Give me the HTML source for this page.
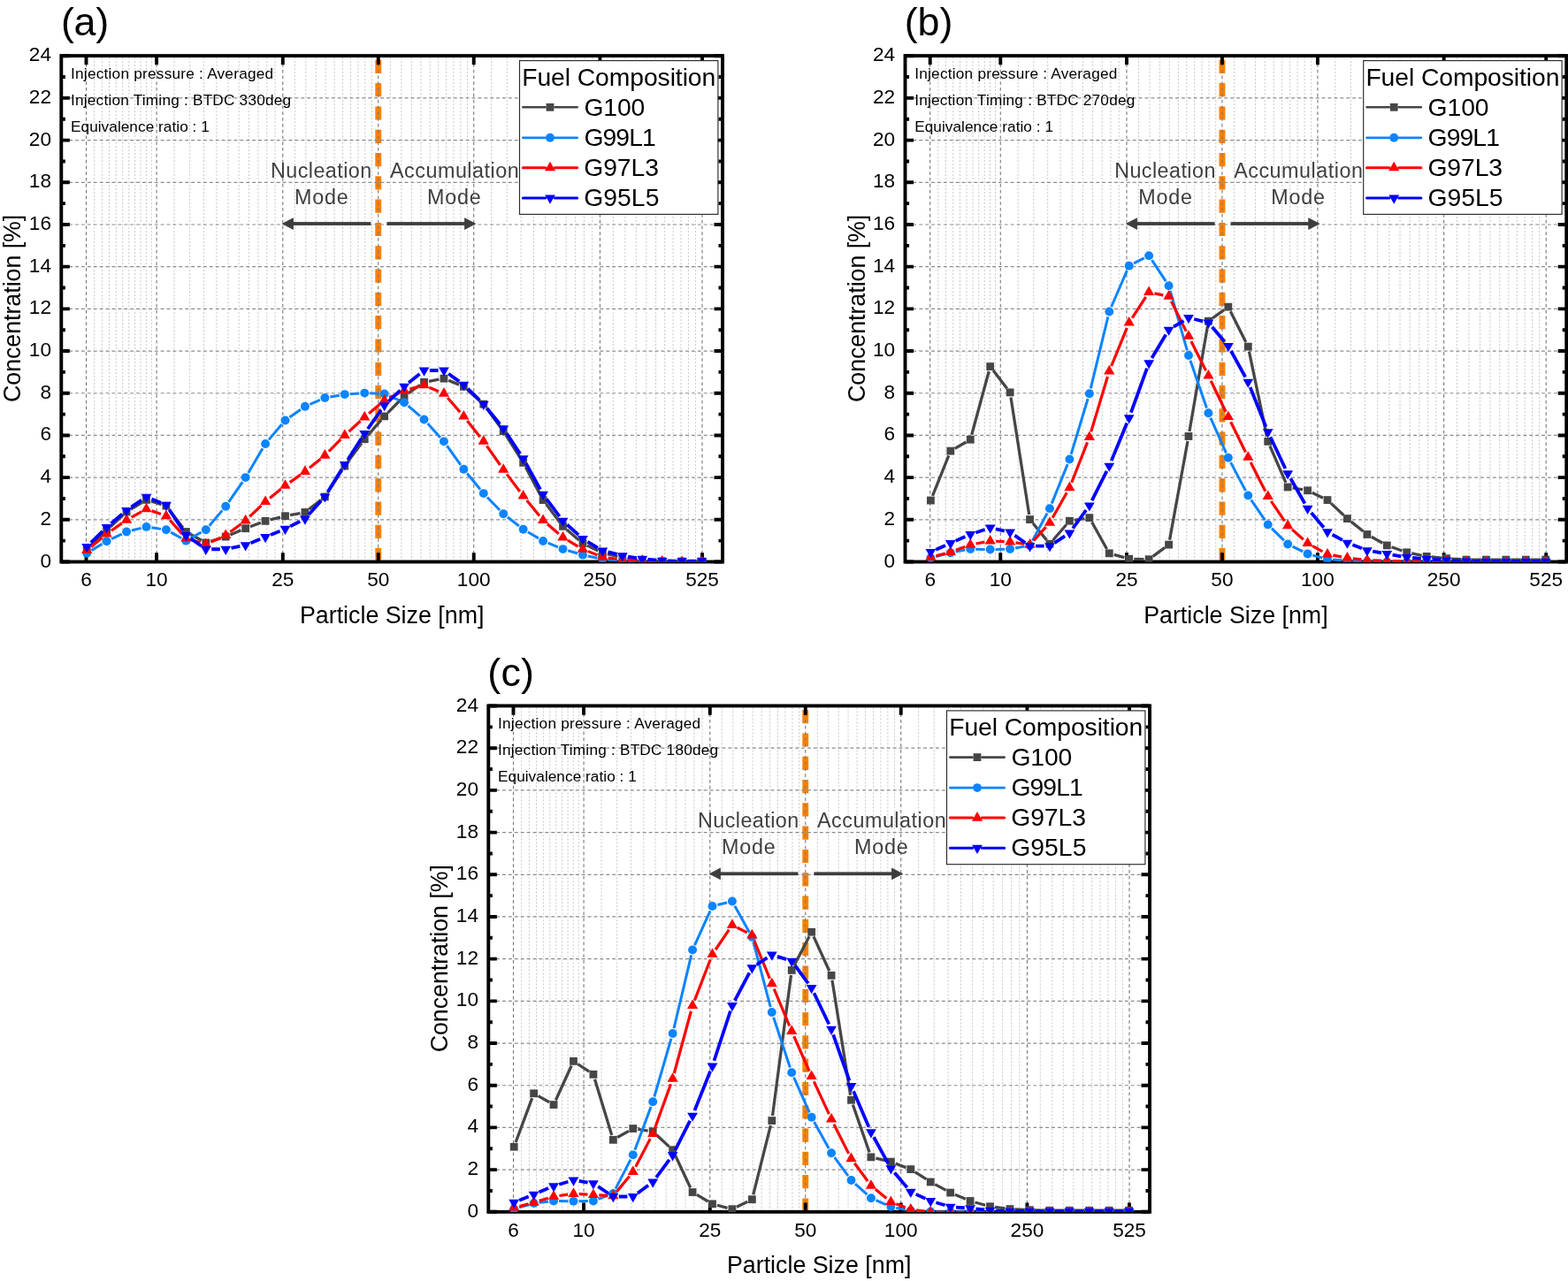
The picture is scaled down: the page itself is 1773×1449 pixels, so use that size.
<!DOCTYPE html>
<html><head><meta charset="utf-8"><title>Particle size distribution</title>
<style>html,body{margin:0;padding:0;background:#fff;}svg{display:block;}</style></head><body>
<svg width="1773" height="1449" viewBox="0 0 1773 1449">
<rect width="1773" height="1449" fill="#fff"/>
<g transform="translate(0,0)">
<clipPath id="clipa"><rect x="69.3" y="63.1" width="747.75" height="572.65"/></clipPath>
<line x1="427.75" y1="67.8" x2="427.75" y2="633.55" stroke="#FF8000" stroke-width="6.9" stroke-dasharray="15.2 11.1"/>
<path d="M106.66 65.05V633.55M115.32 65.05V633.55M123.52 65.05V633.55M131.31 65.05V633.55M138.73 65.05V633.55M145.81 65.05V633.55M152.58 65.05V633.55M159.07 65.05V633.55M165.31 65.05V633.55M171.3 65.05V633.55M196.98 65.05V633.55M214.63 65.05V633.55M230.48 65.05V633.55M244.87 65.05V633.55M258.04 65.05V633.55M270.18 65.05V633.55M281.45 65.05V633.55M291.95 65.05V633.55M301.79 65.05V633.55M311.05 65.05V633.55M333.34 65.05V633.55M345.81 65.05V633.55M357.35 65.05V633.55M368.1 65.05V633.55M378.15 65.05V633.55M387.59 65.05V633.55M396.5 65.05V633.55M404.92 65.05V633.55M412.91 65.05V633.55M420.51 65.05V633.55M441.3 65.05V633.55M453.77 65.05V633.55M465.31 65.05V633.55M476.06 65.05V633.55M486.11 65.05V633.55M495.56 65.05V633.55M504.46 65.05V633.55M512.88 65.05V633.55M520.87 65.05V633.55M528.47 65.05V633.55M555.63 65.05V633.55M573.28 65.05V633.55M589.13 65.05V633.55M603.52 65.05V633.55M616.69 65.05V633.55M628.83 65.05V633.55M640.1 65.05V633.55M650.6 65.05V633.55M660.44 65.05V633.55M669.7 65.05V633.55M693.28 65.05V633.55M706.84 65.05V633.55M719.3 65.05V633.55M730.85 65.05V633.55M741.59 65.05V633.55M751.64 65.05V633.55M761.09 65.05V633.55M769.99 65.05V633.55M778.41 65.05V633.55M786.4 65.05V633.55" stroke="#cacaca" stroke-width="1" stroke-dasharray="2.1 1.9" fill="none"/>
<path d="M97.5 65.05V633.55M177.07 65.05V633.55M319.79 65.05V633.55M427.75 65.05V633.55M535.72 65.05V633.55M678.44 65.05V633.55M794 65.05V633.55" stroke="#787878" stroke-width="1.1" stroke-dasharray="3.8 3.0" fill="none"/>
<path d="M71.25 587.81H815.1M71.25 540.12H815.1M71.25 492.43H815.1M71.25 444.74H815.1M71.25 397.05H815.1M71.25 349.36H815.1M71.25 301.67H815.1M71.25 253.98H815.1M71.25 206.29H815.1M71.25 158.6H815.1M71.25 110.91H815.1" stroke="#8c8c8c" stroke-width="1.2" stroke-dasharray="3.9 3.0" fill="none"/>
<text x="80" y="88.75" font-family="'Liberation Sans', Arial, Helvetica, sans-serif" font-size="17.2" fill="#000" textLength="229.11" lengthAdjust="spacing">Injection pressure : Averaged</text>
<text x="80" y="118.8" font-family="'Liberation Sans', Arial, Helvetica, sans-serif" font-size="17.2" fill="#000" textLength="249.06" lengthAdjust="spacing">Injection Timing : BTDC 330deg</text>
<text x="80" y="148.6" font-family="'Liberation Sans', Arial, Helvetica, sans-serif" font-size="17.2" fill="#000" textLength="156.85" lengthAdjust="spacing">Equivalence ratio : 1</text>
<text x="306" y="200.7" font-family="'Liberation Sans', Arial, Helvetica, sans-serif" font-size="23.3" fill="#404040" textLength="114.19" lengthAdjust="spacing">Nucleation</text>
<text x="333" y="230.7" font-family="'Liberation Sans', Arial, Helvetica, sans-serif" font-size="23.3" fill="#404040" textLength="60.78" lengthAdjust="spacing">Mode</text>
<text x="441" y="200.9" font-family="'Liberation Sans', Arial, Helvetica, sans-serif" font-size="23.3" fill="#404040" textLength="145.76" lengthAdjust="spacing">Accumulation</text>
<text x="483" y="230.8" font-family="'Liberation Sans', Arial, Helvetica, sans-serif" font-size="23.3" fill="#404040" textLength="60.78" lengthAdjust="spacing">Mode</text>
<g fill="#3d3d3d" stroke="#3d3d3d" stroke-width="0.8" stroke-linejoin="round">
<rect x="330" y="251.1" width="89.4" height="3.8" stroke="none"/>
<path d="M319.4 253.1L331.5 246.8L331.5 259.4Z"/>
<rect x="437.4" y="251.1" width="89" height="3.8" stroke="none"/>
<path d="M537.6 253.1L525.5 246.8L525.5 259.4Z"/>
</g>
<rect x="69.3" y="63.1" width="747.75" height="572.4" fill="none" stroke="#000" stroke-width="3.9"/>
<path d="M97.5 635.5V625.25M97.5 63.1V73.35M177.07 635.5V625.25M177.07 63.1V73.35M319.79 635.5V625.25M319.79 63.1V73.35M427.75 635.5V625.25M427.75 63.1V73.35M535.72 635.5V625.25M535.72 63.1V73.35M678.44 635.5V625.25M678.44 63.1V73.35M794 635.5V625.25M794 63.1V73.35M69.3 635.5H78.85M817.05 635.5H807.5M69.3 587.81H78.85M817.05 587.81H807.5M69.3 540.12H78.85M817.05 540.12H807.5M69.3 492.43H78.85M817.05 492.43H807.5M69.3 444.74H78.85M817.05 444.74H807.5M69.3 397.05H78.85M817.05 397.05H807.5M69.3 349.36H78.85M817.05 349.36H807.5M69.3 301.67H78.85M817.05 301.67H807.5M69.3 253.98H78.85M817.05 253.98H807.5M69.3 206.29H78.85M817.05 206.29H807.5M69.3 158.6H78.85M817.05 158.6H807.5M69.3 110.91H78.85M817.05 110.91H807.5M69.3 63.22H78.85M817.05 63.22H807.5" stroke="#000" stroke-width="3.9" fill="none"/>
<path d="M69.3 611.65H73.85M817.05 611.65H812.5M69.3 563.97H73.85M817.05 563.97H812.5M69.3 516.27H73.85M817.05 516.27H812.5M69.3 468.59H73.85M817.05 468.59H812.5M69.3 420.89H73.85M817.05 420.89H812.5M69.3 373.21H73.85M817.05 373.21H812.5M69.3 325.51H73.85M817.05 325.51H812.5M69.3 277.83H73.85M817.05 277.83H812.5M69.3 230.13H73.85M817.05 230.13H812.5M69.3 182.45H73.85M817.05 182.45H812.5M69.3 134.75H73.85M817.05 134.75H812.5M69.3 87.07H73.85M817.05 87.07H812.5" stroke="#000" stroke-width="3.9" fill="none"/>
<g clip-path="url(#clipa)">
<path d="M102.25 617.32L116.58 603.6M124.74 595.93L138.95 582.79M147.85 576.09L160.7 568.3M170.85 567.02L182.56 570.57M191.32 576.64L206.95 597.07M215.25 604.23L227.88 611.21M238.14 612.3L249.85 608.75M260.37 604.95L272.48 599.85M282.89 595.73L294.82 591.29M305.5 587.97L317.07 585.07M328 582.67L339.43 580.51M349.35 576.02L362.94 565.43M370.39 557.27L386.76 531.77M393.12 522.55L408.89 501.2M415.89 492.47L430.98 475.1M438.57 466.88L453.16 452.03M461.66 444.81L474.93 435.51M485.02 431.28L496.43 429.18M507.13 430.27L519.18 435.15M528.56 440.97L542.61 453.42M550.11 461.66L565.92 483.24M572.22 492.49L588.67 518.62M594.29 528.3L611.46 560.62M617.46 570.04L633.15 590.89M640.77 599.02L654.7 610.99M664.01 617.04L676.32 622.89M686.82 626.61L698.37 629.41M709.35 631.56L720.7 633.24M731.84 634.25L743.07 634.61M754.27 634.84L765.5 634.96M776.7 635.02L787.93 635.02" fill="none" stroke="#464646" stroke-width="3.3" stroke-linecap="butt"/>
<rect x="93.8" y="616.79" width="8.8" height="8.8" fill="#464646"/>
<rect x="116.23" y="595.33" width="8.8" height="8.8" fill="#464646"/>
<rect x="138.66" y="574.59" width="8.8" height="8.8" fill="#464646"/>
<rect x="161.09" y="561" width="8.8" height="8.8" fill="#464646"/>
<rect x="183.52" y="567.79" width="8.8" height="8.8" fill="#464646"/>
<rect x="205.95" y="597.12" width="8.8" height="8.8" fill="#464646"/>
<rect x="228.38" y="609.52" width="8.8" height="8.8" fill="#464646"/>
<rect x="250.81" y="602.72" width="8.8" height="8.8" fill="#464646"/>
<rect x="273.24" y="593.28" width="8.8" height="8.8" fill="#464646"/>
<rect x="295.67" y="584.94" width="8.8" height="8.8" fill="#464646"/>
<rect x="318.1" y="579.31" width="8.8" height="8.8" fill="#464646"/>
<rect x="340.53" y="575.06" width="8.8" height="8.8" fill="#464646"/>
<rect x="362.96" y="557.59" width="8.8" height="8.8" fill="#464646"/>
<rect x="385.39" y="522.65" width="8.8" height="8.8" fill="#464646"/>
<rect x="407.82" y="492.3" width="8.8" height="8.8" fill="#464646"/>
<rect x="430.25" y="466.47" width="8.8" height="8.8" fill="#464646"/>
<rect x="452.68" y="443.63" width="8.8" height="8.8" fill="#464646"/>
<rect x="475.11" y="427.89" width="8.8" height="8.8" fill="#464646"/>
<rect x="497.54" y="423.77" width="8.8" height="8.8" fill="#464646"/>
<rect x="519.97" y="432.85" width="8.8" height="8.8" fill="#464646"/>
<rect x="542.4" y="452.74" width="8.8" height="8.8" fill="#464646"/>
<rect x="564.83" y="483.36" width="8.8" height="8.8" fill="#464646"/>
<rect x="587.26" y="518.96" width="8.8" height="8.8" fill="#464646"/>
<rect x="609.69" y="561.16" width="8.8" height="8.8" fill="#464646"/>
<rect x="632.12" y="590.97" width="8.8" height="8.8" fill="#464646"/>
<rect x="654.55" y="610.24" width="8.8" height="8.8" fill="#464646"/>
<rect x="676.98" y="620.89" width="8.8" height="8.8" fill="#464646"/>
<rect x="699.41" y="626.33" width="8.8" height="8.8" fill="#464646"/>
<rect x="721.84" y="629.67" width="8.8" height="8.8" fill="#464646"/>
<rect x="744.27" y="630.38" width="8.8" height="8.8" fill="#464646"/>
<rect x="766.7" y="630.62" width="8.8" height="8.8" fill="#464646"/>
<rect x="789.13" y="630.62" width="8.8" height="8.8" fill="#464646"/>
<path d="M103.34 622.63L115.49 615.32M126.04 609.64L137.65 604.11M148.88 600.07L159.67 597.37M171.42 596.8L181.99 598.37M193.17 602.16L205.1 608.75M215.6 608.75L227.53 602.16M236.66 594.68L251.33 577.37M258.61 567.84L274.24 545.07M280.68 534.95L297.03 507.14M303.94 497.39L318.63 480.01M327.42 472L340.01 463.22M350.43 457.4L361.86 452.44M373.27 449.02L383.88 447.16M395.78 445.72L406.23 445M418.22 444.84L428.65 445.26M440.15 447.89L451.58 452.84M461.63 459.14L474.96 470.59M483.53 478.95L497.92 494.89M505.42 504.23L520.89 525.91M528.18 535.43L542.99 553.49M550.97 562.43L565.06 576.99M573.97 584.98L586.92 595.01M596.83 601.74L608.92 608.89M619.64 614.21L630.97 618.83M642.28 622.78L653.19 625.95M664.81 628.94L675.52 631.33M687.36 633.08L697.83 633.86M709.8 634.56L720.25 635.01M732.24 635.33L742.67 635.44M754.67 635.5L765.1 635.5M777.1 635.5L787.53 635.5" fill="none" stroke="#0A84FF" stroke-width="3.0" stroke-linecap="butt"/>
<circle cx="98.2" cy="625.72" r="4.95" fill="#0A84FF"/>
<circle cx="120.63" cy="612.23" r="4.95" fill="#0A84FF"/>
<circle cx="143.06" cy="601.52" r="4.95" fill="#0A84FF"/>
<circle cx="165.49" cy="595.92" r="4.95" fill="#0A84FF"/>
<circle cx="187.92" cy="599.26" r="4.95" fill="#0A84FF"/>
<circle cx="210.35" cy="611.65" r="4.95" fill="#0A84FF"/>
<circle cx="232.78" cy="599.26" r="4.95" fill="#0A84FF"/>
<circle cx="255.21" cy="572.79" r="4.95" fill="#0A84FF"/>
<circle cx="277.64" cy="540.12" r="4.95" fill="#0A84FF"/>
<circle cx="300.07" cy="501.97" r="4.95" fill="#0A84FF"/>
<circle cx="322.5" cy="475.43" r="4.95" fill="#0A84FF"/>
<circle cx="344.93" cy="459.79" r="4.95" fill="#0A84FF"/>
<circle cx="367.36" cy="450.06" r="4.95" fill="#0A84FF"/>
<circle cx="389.79" cy="446.12" r="4.95" fill="#0A84FF"/>
<circle cx="412.22" cy="444.6" r="4.95" fill="#0A84FF"/>
<circle cx="434.65" cy="445.5" r="4.95" fill="#0A84FF"/>
<circle cx="457.08" cy="455.23" r="4.95" fill="#0A84FF"/>
<circle cx="479.51" cy="474.5" r="4.95" fill="#0A84FF"/>
<circle cx="501.94" cy="499.35" r="4.95" fill="#0A84FF"/>
<circle cx="524.37" cy="530.8" r="4.95" fill="#0A84FF"/>
<circle cx="546.8" cy="558.12" r="4.95" fill="#0A84FF"/>
<circle cx="569.23" cy="581.3" r="4.95" fill="#0A84FF"/>
<circle cx="591.66" cy="598.68" r="4.95" fill="#0A84FF"/>
<circle cx="614.09" cy="611.94" r="4.95" fill="#0A84FF"/>
<circle cx="636.52" cy="621.1" r="4.95" fill="#0A84FF"/>
<circle cx="658.95" cy="627.63" r="4.95" fill="#0A84FF"/>
<circle cx="681.38" cy="632.64" r="4.95" fill="#0A84FF"/>
<circle cx="703.81" cy="634.31" r="4.95" fill="#0A84FF"/>
<circle cx="726.24" cy="635.26" r="4.95" fill="#0A84FF"/>
<circle cx="748.67" cy="635.5" r="4.95" fill="#0A84FF"/>
<circle cx="771.1" cy="635.5" r="4.95" fill="#0A84FF"/>
<circle cx="793.53" cy="635.5" r="4.95" fill="#0A84FF"/>
<path d="M103.13 618.4L115.7 607.97M125.87 600.21L137.82 591.82M148.66 585.05L159.89 578.84M171.53 577.87L181.88 581.5M192.17 588.4L206.1 604.1M216.48 610.75L226.65 613.83M238.61 613.05L249.38 608.19M260.34 601.73L272.51 592.68M282.28 584.45L295.43 571.95M305.04 563.51L317.53 553.36M327.72 545.62L339.71 537.08M349.9 529.34L362.39 519.19M371.85 510.6L385.3 496.94M394.51 488.07L407.5 476.2M417.11 467.74L429.76 457.03M440.38 450.05L451.35 444.59M463.26 440.08L473.33 437.37M485.41 438.19L496.04 442.66M506.14 449.98L520.17 466.14M528.36 475.98L542.81 494.13M550.46 504.38L565.57 526M573.08 536.36L587.81 555.92M595.71 565.99L610.04 583.57M618.93 592.72L631.68 603.75M642.02 611.21L653.45 618.02M664.91 623.63L675.42 627.77M687.72 630.99L697.47 632.34M710.21 633.46L719.84 633.84M732.63 634.35L742.28 634.74M755.07 635.13L764.7 635.33M777.5 635.56L787.13 635.73" fill="none" stroke="#FF0000" stroke-width="3.2" stroke-linecap="butt"/>
<path d="M98.2 615.42L104.3 626.02L92.1 626.02Z" fill="#FF0000"/>
<path d="M120.63 596.82L126.73 607.42L114.53 607.42Z" fill="#FF0000"/>
<path d="M143.06 581.08L149.16 591.68L136.96 591.68Z" fill="#FF0000"/>
<path d="M165.49 568.68L171.59 579.28L159.39 579.28Z" fill="#FF0000"/>
<path d="M187.92 576.55L194.02 587.15L181.82 587.15Z" fill="#FF0000"/>
<path d="M210.35 601.82L216.45 612.42L204.25 612.42Z" fill="#FF0000"/>
<path d="M232.78 608.62L238.88 619.22L226.68 619.22Z" fill="#FF0000"/>
<path d="M255.21 598.49L261.31 609.09L249.11 609.09Z" fill="#FF0000"/>
<path d="M277.64 581.79L283.74 592.39L271.54 592.39Z" fill="#FF0000"/>
<path d="M300.07 560.48L306.17 571.08L293.97 571.08Z" fill="#FF0000"/>
<path d="M322.5 542.26L328.6 552.86L316.4 552.86Z" fill="#FF0000"/>
<path d="M344.93 526.31L351.03 536.91L338.83 536.91Z" fill="#FF0000"/>
<path d="M367.36 508.09L373.46 518.69L361.26 518.69Z" fill="#FF0000"/>
<path d="M389.79 485.32L395.89 495.92L383.69 495.92Z" fill="#FF0000"/>
<path d="M412.22 464.81L418.32 475.41L406.12 475.41Z" fill="#FF0000"/>
<path d="M434.65 445.83L440.75 456.43L428.55 456.43Z" fill="#FF0000"/>
<path d="M457.08 434.67L463.18 445.27L450.98 445.27Z" fill="#FF0000"/>
<path d="M479.51 428.64L485.61 439.24L473.41 439.24Z" fill="#FF0000"/>
<path d="M501.94 438.08L508.04 448.68L495.84 448.68Z" fill="#FF0000"/>
<path d="M524.37 463.9L530.47 474.5L518.27 474.5Z" fill="#FF0000"/>
<path d="M546.8 492.07L552.9 502.67L540.7 502.67Z" fill="#FF0000"/>
<path d="M569.23 524.19L575.33 534.79L563.13 534.79Z" fill="#FF0000"/>
<path d="M591.66 553.97L597.76 564.57L585.56 564.57Z" fill="#FF0000"/>
<path d="M614.09 581.46L620.19 592.06L607.99 592.06Z" fill="#FF0000"/>
<path d="M636.52 600.87L642.62 611.47L630.42 611.47Z" fill="#FF0000"/>
<path d="M658.95 614.22L665.05 624.82L652.85 624.82Z" fill="#FF0000"/>
<path d="M681.38 623.05L687.48 633.65L675.28 633.65Z" fill="#FF0000"/>
<path d="M703.81 626.15L709.91 636.75L697.71 636.75Z" fill="#FF0000"/>
<path d="M726.24 627.03L732.34 637.63L720.14 637.63Z" fill="#FF0000"/>
<path d="M748.67 627.93L754.77 638.53L742.57 638.53Z" fill="#FF0000"/>
<path d="M771.1 628.39L777.2 638.99L765 638.99Z" fill="#FF0000"/>
<path d="M793.53 628.77L799.63 639.37L787.43 639.37Z" fill="#FF0000"/>
<path d="M102.77 613.94L116.06 600.91M125.5 592.28L138.19 581.44M148.35 573.69L160.2 565.63M171.42 564.42L181.99 568.69M191.42 576.45L206.85 600.07M215.58 609.11L227.55 617.55M239.18 621.23L248.81 621.23M261.48 619.95L271.37 617.92M283.55 614.19L294.16 609.8M306 604.95L316.57 600.67M328.21 595.37L339.22 589.77M349.2 582.1L363.09 566.58M370.71 556.36L386.44 530.8M393.25 519.97L408.76 495.83M415.9 485.21L430.97 463.77M439.27 454.11L452.46 441.5M462.06 433.06L474.53 423.02M485.91 419L495.54 419M507.14 422.73L519.17 431.35M528.94 439.56L542.23 452.6M550.83 462.06L565.2 479.77M572.76 490.08L588.13 513.34M594.76 524.28L610.99 553.64M617.92 564.36L632.69 584.09M641.27 593.5L654.2 605.21M664.46 612.76L675.87 619.52M687.58 624.38L697.61 626.96M710.13 629.56L719.92 631.12M732.61 632.74L742.3 633.67M755.07 634.41L764.7 634.62M777.5 634.75L787.13 634.75" fill="none" stroke="#0000FF" stroke-width="3.8" stroke-linecap="butt"/>
<path d="M92.3 615.02L104.1 615.02L98.2 625.22Z" fill="#0000FF"/>
<path d="M114.73 593.03L126.53 593.03L120.63 603.23Z" fill="#0000FF"/>
<path d="M137.16 573.89L148.96 573.89L143.06 584.09Z" fill="#0000FF"/>
<path d="M159.59 558.63L171.39 558.63L165.49 568.83Z" fill="#0000FF"/>
<path d="M182.02 567.69L193.82 567.69L187.92 577.89Z" fill="#0000FF"/>
<path d="M204.45 602.02L216.25 602.02L210.35 612.22Z" fill="#0000FF"/>
<path d="M226.88 617.83L238.68 617.83L232.78 628.03Z" fill="#0000FF"/>
<path d="M249.31 617.83L261.11 617.83L255.21 628.03Z" fill="#0000FF"/>
<path d="M271.74 613.23L283.54 613.23L277.64 623.43Z" fill="#0000FF"/>
<path d="M294.17 603.96L305.97 603.96L300.07 614.16Z" fill="#0000FF"/>
<path d="M316.6 594.87L328.4 594.87L322.5 605.07Z" fill="#0000FF"/>
<path d="M339.03 583.47L350.83 583.47L344.93 593.67Z" fill="#0000FF"/>
<path d="M361.46 558.41L373.26 558.41L367.36 568.61Z" fill="#0000FF"/>
<path d="M383.89 521.95L395.69 521.95L389.79 532.15Z" fill="#0000FF"/>
<path d="M406.32 487.04L418.12 487.04L412.22 497.24Z" fill="#0000FF"/>
<path d="M428.75 455.14L440.55 455.14L434.65 465.34Z" fill="#0000FF"/>
<path d="M451.18 433.68L462.98 433.68L457.08 443.88Z" fill="#0000FF"/>
<path d="M473.61 415.6L485.41 415.6L479.51 425.8Z" fill="#0000FF"/>
<path d="M496.04 415.6L507.84 415.6L501.94 425.8Z" fill="#0000FF"/>
<path d="M518.47 431.68L530.27 431.68L524.37 441.88Z" fill="#0000FF"/>
<path d="M540.9 453.68L552.7 453.68L546.8 463.88Z" fill="#0000FF"/>
<path d="M563.33 481.34L575.13 481.34L569.23 491.54Z" fill="#0000FF"/>
<path d="M585.76 515.28L597.56 515.28L591.66 525.48Z" fill="#0000FF"/>
<path d="M608.19 555.84L619.99 555.84L614.09 566.04Z" fill="#0000FF"/>
<path d="M630.62 585.81L642.42 585.81L636.52 596.01Z" fill="#0000FF"/>
<path d="M653.05 606.1L664.85 606.1L658.95 616.3Z" fill="#0000FF"/>
<path d="M675.48 619.38L687.28 619.38L681.38 629.58Z" fill="#0000FF"/>
<path d="M697.91 625.15L709.71 625.15L703.81 635.35Z" fill="#0000FF"/>
<path d="M720.34 628.73L732.14 628.73L726.24 638.93Z" fill="#0000FF"/>
<path d="M742.77 630.88L754.57 630.88L748.67 641.08Z" fill="#0000FF"/>
<path d="M765.2 631.35L777 631.35L771.1 641.55Z" fill="#0000FF"/>
<path d="M787.63 631.35L799.43 631.35L793.53 641.55Z" fill="#0000FF"/>
</g>
<rect x="587.5" y="68.6" width="224.4" height="173.8" fill="#fff" stroke="#2a2a2a" stroke-width="1.15"/>
<text x="590.2" y="96.8" font-family="'Liberation Sans', Arial, Helvetica, sans-serif" font-size="28.3" fill="#000" textLength="219.09" lengthAdjust="spacing">Fuel Composition</text>
<path d="M591.3 121.3H616.6M627.4 121.3H652.7" stroke="#464646" stroke-width="2.6" stroke-linecap="round" fill="none"/>
<rect x="617.6" y="116.9" width="8.8" height="8.8" fill="#464646"/>
<text x="660.4" y="130.9" font-family="'Liberation Sans', Arial, Helvetica, sans-serif" font-size="28.3" fill="#000" textLength="68.93" lengthAdjust="spacing">G100</text>
<path d="M591.3 155.8H616.6M627.4 155.8H652.7" stroke="#0A84FF" stroke-width="2.7" stroke-linecap="round" fill="none"/>
<circle cx="622" cy="155.8" r="4.95" fill="#0A84FF"/>
<text x="660.4" y="164.9" font-family="'Liberation Sans', Arial, Helvetica, sans-serif" font-size="28.3" fill="#000" textLength="81.37" lengthAdjust="spacing">G99L1</text>
<path d="M591.3 189.8H616.6M627.4 189.8H652.7" stroke="#FF0000" stroke-width="3.0" stroke-linecap="round" fill="none"/>
<path d="M622 182.73L628.1 193.33L615.9 193.33Z" fill="#FF0000"/>
<text x="660.2" y="198.9" font-family="'Liberation Sans', Arial, Helvetica, sans-serif" font-size="28.3" fill="#000" textLength="84.72" lengthAdjust="spacing">G97L3</text>
<path d="M591.3 223.9H616.6M627.4 223.9H652.7" stroke="#0000FF" stroke-width="3.0" stroke-linecap="round" fill="none"/>
<path d="M616.1 220.5L627.9 220.5L622 230.7Z" fill="#0000FF"/>
<text x="660.2" y="232.7" font-family="'Liberation Sans', Arial, Helvetica, sans-serif" font-size="28.3" fill="#000" textLength="85.22" lengthAdjust="spacing">G95L5</text>
<g font-family="'Liberation Sans', Arial, Helvetica, sans-serif" font-size="22.6" fill="#000">
<text x="58" y="641.5" text-anchor="end">0</text>
<text x="58" y="593.81" text-anchor="end">2</text>
<text x="58" y="546.12" text-anchor="end">4</text>
<text x="58" y="498.43" text-anchor="end">6</text>
<text x="58" y="450.74" text-anchor="end">8</text>
<text x="58" y="403.05" text-anchor="end">10</text>
<text x="58" y="355.36" text-anchor="end">12</text>
<text x="58" y="307.67" text-anchor="end">14</text>
<text x="58" y="259.98" text-anchor="end">16</text>
<text x="58" y="212.29" text-anchor="end">18</text>
<text x="58" y="164.6" text-anchor="end">20</text>
<text x="58" y="116.91" text-anchor="end">22</text>
<text x="58" y="69.22" text-anchor="end">24</text>
<text x="97.5" y="663.4" text-anchor="middle">6</text>
<text x="177.07" y="663.4" text-anchor="middle">10</text>
<text x="319.79" y="663.4" text-anchor="middle">25</text>
<text x="427.75" y="663.4" text-anchor="middle">50</text>
<text x="535.72" y="663.4" text-anchor="middle">100</text>
<text x="678.44" y="663.4" text-anchor="middle">250</text>
<text x="794" y="663.4" text-anchor="middle">525</text>
</g>
<text x="339" y="704.8" font-family="'Liberation Sans', Arial, Helvetica, sans-serif" font-size="26.8" fill="#000" textLength="208.4" lengthAdjust="spacing">Particle Size [nm]</text>
<text transform="translate(23.3,455) rotate(-90)" font-family="'Liberation Sans', Arial, Helvetica, sans-serif" font-size="26.8" fill="#000" textLength="212.32" lengthAdjust="spacing">Concentration [%]</text>
<text x="69" y="40.2" font-family="'Liberation Sans', Arial, Helvetica, sans-serif" font-size="44.8" fill="#000" textLength="54.15" lengthAdjust="spacing">(a)</text>
</g>
<g transform="translate(954.2,0)">
<clipPath id="clipb"><rect x="69.3" y="63.1" width="747.75" height="572.65"/></clipPath>
<line x1="427.75" y1="67.8" x2="427.75" y2="633.55" stroke="#FF8000" stroke-width="6.9" stroke-dasharray="15.2 11.1"/>
<path d="M106.66 65.05V633.55M115.32 65.05V633.55M123.52 65.05V633.55M131.31 65.05V633.55M138.73 65.05V633.55M145.81 65.05V633.55M152.58 65.05V633.55M159.07 65.05V633.55M165.31 65.05V633.55M171.3 65.05V633.55M196.98 65.05V633.55M214.63 65.05V633.55M230.48 65.05V633.55M244.87 65.05V633.55M258.04 65.05V633.55M270.18 65.05V633.55M281.45 65.05V633.55M291.95 65.05V633.55M301.79 65.05V633.55M311.05 65.05V633.55M333.34 65.05V633.55M345.81 65.05V633.55M357.35 65.05V633.55M368.1 65.05V633.55M378.15 65.05V633.55M387.59 65.05V633.55M396.5 65.05V633.55M404.92 65.05V633.55M412.91 65.05V633.55M420.51 65.05V633.55M441.3 65.05V633.55M453.77 65.05V633.55M465.31 65.05V633.55M476.06 65.05V633.55M486.11 65.05V633.55M495.56 65.05V633.55M504.46 65.05V633.55M512.88 65.05V633.55M520.87 65.05V633.55M528.47 65.05V633.55M555.63 65.05V633.55M573.28 65.05V633.55M589.13 65.05V633.55M603.52 65.05V633.55M616.69 65.05V633.55M628.83 65.05V633.55M640.1 65.05V633.55M650.6 65.05V633.55M660.44 65.05V633.55M669.7 65.05V633.55M693.28 65.05V633.55M706.84 65.05V633.55M719.3 65.05V633.55M730.85 65.05V633.55M741.59 65.05V633.55M751.64 65.05V633.55M761.09 65.05V633.55M769.99 65.05V633.55M778.41 65.05V633.55M786.4 65.05V633.55" stroke="#cacaca" stroke-width="1" stroke-dasharray="2.1 1.9" fill="none"/>
<path d="M97.5 65.05V633.55M177.07 65.05V633.55M319.79 65.05V633.55M427.75 65.05V633.55M535.72 65.05V633.55M678.44 65.05V633.55M794 65.05V633.55" stroke="#787878" stroke-width="1.1" stroke-dasharray="3.8 3.0" fill="none"/>
<path d="M71.25 587.81H815.1M71.25 540.12H815.1M71.25 492.43H815.1M71.25 444.74H815.1M71.25 397.05H815.1M71.25 349.36H815.1M71.25 301.67H815.1M71.25 253.98H815.1M71.25 206.29H815.1M71.25 158.6H815.1M71.25 110.91H815.1" stroke="#8c8c8c" stroke-width="1.2" stroke-dasharray="3.9 3.0" fill="none"/>
<text x="80" y="88.75" font-family="'Liberation Sans', Arial, Helvetica, sans-serif" font-size="17.2" fill="#000" textLength="229.11" lengthAdjust="spacing">Injection pressure : Averaged</text>
<text x="80" y="118.8" font-family="'Liberation Sans', Arial, Helvetica, sans-serif" font-size="17.2" fill="#000" textLength="249.06" lengthAdjust="spacing">Injection Timing : BTDC 270deg</text>
<text x="80" y="148.6" font-family="'Liberation Sans', Arial, Helvetica, sans-serif" font-size="17.2" fill="#000" textLength="156.85" lengthAdjust="spacing">Equivalence ratio : 1</text>
<text x="306" y="200.7" font-family="'Liberation Sans', Arial, Helvetica, sans-serif" font-size="23.3" fill="#404040" textLength="114.19" lengthAdjust="spacing">Nucleation</text>
<text x="333" y="230.7" font-family="'Liberation Sans', Arial, Helvetica, sans-serif" font-size="23.3" fill="#404040" textLength="60.78" lengthAdjust="spacing">Mode</text>
<text x="441" y="200.9" font-family="'Liberation Sans', Arial, Helvetica, sans-serif" font-size="23.3" fill="#404040" textLength="145.76" lengthAdjust="spacing">Accumulation</text>
<text x="483" y="230.8" font-family="'Liberation Sans', Arial, Helvetica, sans-serif" font-size="23.3" fill="#404040" textLength="60.78" lengthAdjust="spacing">Mode</text>
<g fill="#3d3d3d" stroke="#3d3d3d" stroke-width="0.8" stroke-linejoin="round">
<rect x="330" y="251.1" width="89.4" height="3.8" stroke="none"/>
<path d="M319.4 253.1L331.5 246.8L331.5 259.4Z"/>
<rect x="437.4" y="251.1" width="89" height="3.8" stroke="none"/>
<path d="M537.6 253.1L525.5 246.8L525.5 259.4Z"/>
</g>
<rect x="69.3" y="63.1" width="747.75" height="572.4" fill="none" stroke="#000" stroke-width="3.9"/>
<path d="M97.5 635.5V625.25M97.5 63.1V73.35M177.07 635.5V625.25M177.07 63.1V73.35M319.79 635.5V625.25M319.79 63.1V73.35M427.75 635.5V625.25M427.75 63.1V73.35M535.72 635.5V625.25M535.72 63.1V73.35M678.44 635.5V625.25M678.44 63.1V73.35M794 635.5V625.25M794 63.1V73.35M69.3 635.5H78.85M817.05 635.5H807.5M69.3 587.81H78.85M817.05 587.81H807.5M69.3 540.12H78.85M817.05 540.12H807.5M69.3 492.43H78.85M817.05 492.43H807.5M69.3 444.74H78.85M817.05 444.74H807.5M69.3 397.05H78.85M817.05 397.05H807.5M69.3 349.36H78.85M817.05 349.36H807.5M69.3 301.67H78.85M817.05 301.67H807.5M69.3 253.98H78.85M817.05 253.98H807.5M69.3 206.29H78.85M817.05 206.29H807.5M69.3 158.6H78.85M817.05 158.6H807.5M69.3 110.91H78.85M817.05 110.91H807.5M69.3 63.22H78.85M817.05 63.22H807.5" stroke="#000" stroke-width="3.9" fill="none"/>
<path d="M69.3 611.65H73.85M817.05 611.65H812.5M69.3 563.97H73.85M817.05 563.97H812.5M69.3 516.27H73.85M817.05 516.27H812.5M69.3 468.59H73.85M817.05 468.59H812.5M69.3 420.89H73.85M817.05 420.89H812.5M69.3 373.21H73.85M817.05 373.21H812.5M69.3 325.51H73.85M817.05 325.51H812.5M69.3 277.83H73.85M817.05 277.83H812.5M69.3 230.13H73.85M817.05 230.13H812.5M69.3 182.45H73.85M817.05 182.45H812.5M69.3 134.75H73.85M817.05 134.75H812.5M69.3 87.07H73.85M817.05 87.07H812.5" stroke="#000" stroke-width="3.9" fill="none"/>
<g clip-path="url(#clipb)">
<path d="M100.28 560.87L118.55 515.32M125.48 507.33L138.21 499.99M144.53 491.79L164.02 419.98M168.89 419.02L184.52 439.43M188.78 449.41L209.49 582.06M213.88 591.94L229.25 610.88M236.44 610.99L251.55 593.48M260.74 588.36L272.11 586.55M280.37 590.55L297.34 620.93M305.46 627.35L317.11 630.67M328.1 632.33L339.33 632.59M349.43 629.38L362.86 619.44M368.37 610.61L388.78 499.01M390.74 487.98L411.27 368.76M416.77 359.97L430.1 350.41M437.15 352.15L454.58 387.08M458.23 397.57L478.36 493.86M481.74 504.48L499.71 545.86M507.46 551.93L518.85 553.87M529.42 557.23L541.75 563.14M550.89 569.39L565.14 582.76M573.61 590.09L587.28 600.99M596.56 607.19L609.19 614.19M619.37 618.76L631.24 622.95M642.01 625.94L653.46 628.28M664.52 629.98L675.81 631.15M686.97 632.08L698.22 632.77M709.41 633.12L720.64 633.12M731.84 633.12L743.07 633.12M754.27 633.12L765.5 633.12M776.7 633.12L787.93 633.12" fill="none" stroke="#464646" stroke-width="3.3" stroke-linecap="butt"/>
<rect x="93.8" y="561.66" width="8.8" height="8.8" fill="#464646"/>
<rect x="116.23" y="505.72" width="8.8" height="8.8" fill="#464646"/>
<rect x="138.66" y="492.8" width="8.8" height="8.8" fill="#464646"/>
<rect x="161.09" y="410.18" width="8.8" height="8.8" fill="#464646"/>
<rect x="183.52" y="439.48" width="8.8" height="8.8" fill="#464646"/>
<rect x="205.95" y="583.2" width="8.8" height="8.8" fill="#464646"/>
<rect x="228.38" y="610.83" width="8.8" height="8.8" fill="#464646"/>
<rect x="250.81" y="584.84" width="8.8" height="8.8" fill="#464646"/>
<rect x="273.24" y="581.26" width="8.8" height="8.8" fill="#464646"/>
<rect x="295.67" y="621.42" width="8.8" height="8.8" fill="#464646"/>
<rect x="318.1" y="627.81" width="8.8" height="8.8" fill="#464646"/>
<rect x="340.53" y="628.31" width="8.8" height="8.8" fill="#464646"/>
<rect x="362.96" y="611.71" width="8.8" height="8.8" fill="#464646"/>
<rect x="385.39" y="489.1" width="8.8" height="8.8" fill="#464646"/>
<rect x="407.82" y="358.84" width="8.8" height="8.8" fill="#464646"/>
<rect x="430.25" y="342.74" width="8.8" height="8.8" fill="#464646"/>
<rect x="452.68" y="387.69" width="8.8" height="8.8" fill="#464646"/>
<rect x="475.11" y="494.95" width="8.8" height="8.8" fill="#464646"/>
<rect x="497.54" y="546.59" width="8.8" height="8.8" fill="#464646"/>
<rect x="519.97" y="550.41" width="8.8" height="8.8" fill="#464646"/>
<rect x="542.4" y="561.16" width="8.8" height="8.8" fill="#464646"/>
<rect x="564.83" y="582.19" width="8.8" height="8.8" fill="#464646"/>
<rect x="587.26" y="600.08" width="8.8" height="8.8" fill="#464646"/>
<rect x="609.69" y="612.5" width="8.8" height="8.8" fill="#464646"/>
<rect x="632.12" y="620.42" width="8.8" height="8.8" fill="#464646"/>
<rect x="654.55" y="625" width="8.8" height="8.8" fill="#464646"/>
<rect x="676.98" y="627.33" width="8.8" height="8.8" fill="#464646"/>
<rect x="699.41" y="628.72" width="8.8" height="8.8" fill="#464646"/>
<rect x="721.84" y="628.72" width="8.8" height="8.8" fill="#464646"/>
<rect x="744.27" y="628.72" width="8.8" height="8.8" fill="#464646"/>
<rect x="766.7" y="628.72" width="8.8" height="8.8" fill="#464646"/>
<rect x="789.13" y="628.72" width="8.8" height="8.8" fill="#464646"/>
<path d="M104.01 629.47L114.82 626.68M126.53 624.08L137.16 622.12M149.06 621.16L159.49 621.39M171.49 621.39L181.92 621.16M193.82 619.94L204.45 617.99M213.19 611.62L229.94 580.46M235.02 569.61L252.97 525.11M256.94 513.8L275.91 450.96M279.05 439.39L298.66 358.34M302.45 347L320.12 306.18M327.84 297.93L339.59 291.89M348.24 294.16L364.05 318.12M369 328.9L388.15 396.29M391.74 407.73L410.27 461.53M414.65 472.69L432.22 512.29M437.44 523.09L454.29 555.08M460.45 565.35L476.14 588.43M483.78 597.61L497.67 611.35M507.33 618.2L518.98 623.88M530.16 628.09L541.01 631.06M552.78 633.08L563.25 633.86M575.22 634.56L585.67 635.01M597.66 635.33L608.09 635.44M620.09 635.5L630.52 635.5M642.52 635.5L652.95 635.5M664.95 635.5L675.38 635.5M687.38 635.5L697.81 635.5M709.81 635.5L720.24 635.5M732.24 635.5L742.67 635.5M754.67 635.5L765.1 635.5M777.1 635.5L787.53 635.5" fill="none" stroke="#0A84FF" stroke-width="3.0" stroke-linecap="butt"/>
<circle cx="98.2" cy="630.97" r="4.95" fill="#0A84FF"/>
<circle cx="120.63" cy="625.18" r="4.95" fill="#0A84FF"/>
<circle cx="143.06" cy="621.03" r="4.95" fill="#0A84FF"/>
<circle cx="165.49" cy="621.53" r="4.95" fill="#0A84FF"/>
<circle cx="187.92" cy="621.03" r="4.95" fill="#0A84FF"/>
<circle cx="210.35" cy="616.9" r="4.95" fill="#0A84FF"/>
<circle cx="232.78" cy="575.17" r="4.95" fill="#0A84FF"/>
<circle cx="255.21" cy="519.54" r="4.95" fill="#0A84FF"/>
<circle cx="277.64" cy="445.22" r="4.95" fill="#0A84FF"/>
<circle cx="300.07" cy="352.51" r="4.95" fill="#0A84FF"/>
<circle cx="322.5" cy="300.67" r="4.95" fill="#0A84FF"/>
<circle cx="344.93" cy="289.15" r="4.95" fill="#0A84FF"/>
<circle cx="367.36" cy="323.13" r="4.95" fill="#0A84FF"/>
<circle cx="389.79" cy="402.06" r="4.95" fill="#0A84FF"/>
<circle cx="412.22" cy="467.2" r="4.95" fill="#0A84FF"/>
<circle cx="434.65" cy="517.78" r="4.95" fill="#0A84FF"/>
<circle cx="457.08" cy="560.39" r="4.95" fill="#0A84FF"/>
<circle cx="479.51" cy="593.39" r="4.95" fill="#0A84FF"/>
<circle cx="501.94" cy="615.57" r="4.95" fill="#0A84FF"/>
<circle cx="524.37" cy="626.51" r="4.95" fill="#0A84FF"/>
<circle cx="546.8" cy="632.64" r="4.95" fill="#0A84FF"/>
<circle cx="569.23" cy="634.31" r="4.95" fill="#0A84FF"/>
<circle cx="591.66" cy="635.26" r="4.95" fill="#0A84FF"/>
<circle cx="614.09" cy="635.5" r="4.95" fill="#0A84FF"/>
<circle cx="636.52" cy="635.5" r="4.95" fill="#0A84FF"/>
<circle cx="658.95" cy="635.5" r="4.95" fill="#0A84FF"/>
<circle cx="681.38" cy="635.5" r="4.95" fill="#0A84FF"/>
<circle cx="703.81" cy="635.5" r="4.95" fill="#0A84FF"/>
<circle cx="726.24" cy="635.5" r="4.95" fill="#0A84FF"/>
<circle cx="748.67" cy="635.5" r="4.95" fill="#0A84FF"/>
<circle cx="771.1" cy="635.5" r="4.95" fill="#0A84FF"/>
<circle cx="793.53" cy="635.5" r="4.95" fill="#0A84FF"/>
<path d="M104.39 628.73L114.44 626.09M126.63 622.25L137.06 618.4M149.35 615.01L159.2 613.17M171.89 612.24L181.52 612.62M194.25 613.81L204.02 615.25M214.64 611.44L228.49 596.09M235.93 585.77L252.06 557.23M257.55 545.71L275.3 500.44M279.48 488.35L298.23 426.05M302.49 413.99L320.08 370.93M325.99 359.64L341.44 335.89M351.2 331.81L361.09 333.84M370.2 340.86L386.95 374.6M392.66 386.06L409.35 419.33M415 430.81L431.87 465.76M437.46 477.27L454.27 511.58M459.98 523.03L476.61 555.83M483.1 566.83L498.35 589.36M506.73 598.9L519.58 610.28M529.97 617.62L541.2 623.84M553.09 628.11L562.94 629.93M575.59 631.79L585.3 632.87M598.06 633.81L607.69 634.17M620.49 634.54L630.12 634.75M642.92 634.95L652.55 635.05M665.35 635.12L674.98 635.12M687.78 635.19L697.41 635.29M710.21 635.47L719.84 635.65M732.64 635.76L742.27 635.76M755.07 635.76L764.7 635.76M777.5 635.76L787.13 635.76" fill="none" stroke="#FF0000" stroke-width="3.2" stroke-linecap="butt"/>
<path d="M98.2 623.28L104.3 633.88L92.1 633.88Z" fill="#FF0000"/>
<path d="M120.63 617.4L126.73 628L114.53 628Z" fill="#FF0000"/>
<path d="M143.06 609.12L149.16 619.72L136.96 619.72Z" fill="#FF0000"/>
<path d="M165.49 604.92L171.59 615.52L159.39 615.52Z" fill="#FF0000"/>
<path d="M187.92 605.81L194.02 616.41L181.82 616.41Z" fill="#FF0000"/>
<path d="M210.35 609.12L216.45 619.72L204.25 619.72Z" fill="#FF0000"/>
<path d="M232.78 584.27L238.88 594.87L226.68 594.87Z" fill="#FF0000"/>
<path d="M255.21 544.6L261.31 555.2L249.11 555.2Z" fill="#FF0000"/>
<path d="M277.64 487.42L283.74 498.02L271.54 498.02Z" fill="#FF0000"/>
<path d="M300.07 412.85L306.17 423.45L293.97 423.45Z" fill="#FF0000"/>
<path d="M322.5 357.94L328.6 368.54L316.4 368.54Z" fill="#FF0000"/>
<path d="M344.93 323.46L351.03 334.06L338.83 334.06Z" fill="#FF0000"/>
<path d="M367.36 328.06L373.46 338.66L361.26 338.66Z" fill="#FF0000"/>
<path d="M389.79 373.27L395.89 383.87L383.69 383.87Z" fill="#FF0000"/>
<path d="M412.22 417.98L418.32 428.58L406.12 428.58Z" fill="#FF0000"/>
<path d="M434.65 464.45L440.75 475.05L428.55 475.05Z" fill="#FF0000"/>
<path d="M457.08 510.26L463.18 520.86L450.98 520.86Z" fill="#FF0000"/>
<path d="M479.51 554.47L485.61 565.07L473.41 565.07Z" fill="#FF0000"/>
<path d="M501.94 587.59L508.04 598.19L495.84 598.19Z" fill="#FF0000"/>
<path d="M524.37 607.45L530.47 618.05L518.27 618.05Z" fill="#FF0000"/>
<path d="M546.8 619.88L552.9 630.48L540.7 630.48Z" fill="#FF0000"/>
<path d="M569.23 624.02L575.33 634.62L563.13 634.62Z" fill="#FF0000"/>
<path d="M591.66 626.5L597.76 637.1L585.56 637.1Z" fill="#FF0000"/>
<path d="M614.09 627.34L620.19 637.94L607.99 637.94Z" fill="#FF0000"/>
<path d="M636.52 627.82L642.62 638.42L630.42 638.42Z" fill="#FF0000"/>
<path d="M658.95 628.05L665.05 638.65L652.85 638.65Z" fill="#FF0000"/>
<path d="M681.38 628.05L687.48 638.65L675.28 638.65Z" fill="#FF0000"/>
<path d="M703.81 628.29L709.91 638.89L697.71 638.89Z" fill="#FF0000"/>
<path d="M726.24 628.7L732.34 639.3L720.14 639.3Z" fill="#FF0000"/>
<path d="M748.67 628.7L754.77 639.3L742.57 639.3Z" fill="#FF0000"/>
<path d="M771.1 628.7L777.2 639.3L765 639.3Z" fill="#FF0000"/>
<path d="M793.53 628.7L799.63 639.3L787.43 639.3Z" fill="#FF0000"/>
<path d="M104.05 621.72L114.78 616.96M126.48 611.78L137.21 607.04M149.13 602.43L159.42 599M171.74 598.37L181.67 600.58M193.16 605.64L205.11 614.01M216.75 617.68L226.38 617.68M238.11 614.14L249.88 606.34M258.96 597.62L273.89 576.99M280.51 566.08L297.2 532.79M302.51 521.15L320.06 478.57M324.68 466.64L342.75 416.61M348.21 405.09L364.08 378.53M372.84 369.72L384.31 362.8M396.01 360.98L406 363.36M416.35 369.74L430.52 386.53M437.74 397.02L453.99 426.47M459.44 438.02L477.15 482.59M482.26 494.32L499.19 529.95M505.11 541.29L521.2 569.56M528.5 580L542.67 596.75M552.4 604.73L563.63 610.94M575.21 616.33L585.68 620.35M597.97 623.71L607.78 625.38M620.39 627.57L630.22 629.32M642.89 631.01L652.58 631.89M665.34 632.85L674.99 633.42M687.77 634.14L697.42 634.65M710.21 635.06L719.84 635.16M732.64 635.23L742.27 635.23M755.07 635.23L764.7 635.23M777.5 635.23L787.13 635.23" fill="none" stroke="#0000FF" stroke-width="3.8" stroke-linecap="butt"/>
<path d="M92.3 620.91L104.1 620.91L98.2 631.11Z" fill="#0000FF"/>
<path d="M114.73 610.97L126.53 610.97L120.63 621.17Z" fill="#0000FF"/>
<path d="M137.16 601.05L148.96 601.05L143.06 611.25Z" fill="#0000FF"/>
<path d="M159.59 593.58L171.39 593.58L165.49 603.78Z" fill="#0000FF"/>
<path d="M182.02 598.57L193.82 598.57L187.92 608.77Z" fill="#0000FF"/>
<path d="M204.45 614.28L216.25 614.28L210.35 624.48Z" fill="#0000FF"/>
<path d="M226.88 614.28L238.68 614.28L232.78 624.48Z" fill="#0000FF"/>
<path d="M249.31 599.4L261.11 599.4L255.21 609.6Z" fill="#0000FF"/>
<path d="M271.74 568.4L283.54 568.4L277.64 578.6Z" fill="#0000FF"/>
<path d="M294.17 523.67L305.97 523.67L300.07 533.87Z" fill="#0000FF"/>
<path d="M316.6 469.26L328.4 469.26L322.5 479.46Z" fill="#0000FF"/>
<path d="M339.03 407.19L350.83 407.19L344.93 417.39Z" fill="#0000FF"/>
<path d="M361.46 369.63L373.26 369.63L367.36 379.83Z" fill="#0000FF"/>
<path d="M383.89 356.09L395.69 356.09L389.79 366.29Z" fill="#0000FF"/>
<path d="M406.32 361.45L418.12 361.45L412.22 371.65Z" fill="#0000FF"/>
<path d="M428.75 388.02L440.55 388.02L434.65 398.22Z" fill="#0000FF"/>
<path d="M451.18 428.67L462.98 428.67L457.08 438.87Z" fill="#0000FF"/>
<path d="M473.61 485.14L485.41 485.14L479.51 495.34Z" fill="#0000FF"/>
<path d="M496.04 532.33L507.84 532.33L501.94 542.53Z" fill="#0000FF"/>
<path d="M518.47 571.72L530.27 571.72L524.37 581.92Z" fill="#0000FF"/>
<path d="M540.9 598.23L552.7 598.23L546.8 608.43Z" fill="#0000FF"/>
<path d="M563.33 610.63L575.13 610.63L569.23 620.83Z" fill="#0000FF"/>
<path d="M585.76 619.24L597.56 619.24L591.66 629.44Z" fill="#0000FF"/>
<path d="M608.19 623.06L619.99 623.06L614.09 633.26Z" fill="#0000FF"/>
<path d="M630.62 627.04L642.42 627.04L636.52 637.24Z" fill="#0000FF"/>
<path d="M653.05 629.06L664.85 629.06L658.95 639.26Z" fill="#0000FF"/>
<path d="M675.48 630.4L687.28 630.4L681.38 640.6Z" fill="#0000FF"/>
<path d="M697.91 631.59L709.71 631.59L703.81 641.79Z" fill="#0000FF"/>
<path d="M720.34 631.83L732.14 631.83L726.24 642.03Z" fill="#0000FF"/>
<path d="M742.77 631.83L754.57 631.83L748.67 642.03Z" fill="#0000FF"/>
<path d="M765.2 631.83L777 631.83L771.1 642.03Z" fill="#0000FF"/>
<path d="M787.63 631.83L799.43 631.83L793.53 642.03Z" fill="#0000FF"/>
</g>
<rect x="587.5" y="68.6" width="224.4" height="173.8" fill="#fff" stroke="#2a2a2a" stroke-width="1.15"/>
<text x="590.2" y="96.8" font-family="'Liberation Sans', Arial, Helvetica, sans-serif" font-size="28.3" fill="#000" textLength="219.09" lengthAdjust="spacing">Fuel Composition</text>
<path d="M591.3 121.3H616.6M627.4 121.3H652.7" stroke="#464646" stroke-width="2.6" stroke-linecap="round" fill="none"/>
<rect x="617.6" y="116.9" width="8.8" height="8.8" fill="#464646"/>
<text x="660.4" y="130.9" font-family="'Liberation Sans', Arial, Helvetica, sans-serif" font-size="28.3" fill="#000" textLength="68.93" lengthAdjust="spacing">G100</text>
<path d="M591.3 155.8H616.6M627.4 155.8H652.7" stroke="#0A84FF" stroke-width="2.7" stroke-linecap="round" fill="none"/>
<circle cx="622" cy="155.8" r="4.95" fill="#0A84FF"/>
<text x="660.4" y="164.9" font-family="'Liberation Sans', Arial, Helvetica, sans-serif" font-size="28.3" fill="#000" textLength="81.37" lengthAdjust="spacing">G99L1</text>
<path d="M591.3 189.8H616.6M627.4 189.8H652.7" stroke="#FF0000" stroke-width="3.0" stroke-linecap="round" fill="none"/>
<path d="M622 182.73L628.1 193.33L615.9 193.33Z" fill="#FF0000"/>
<text x="660.2" y="198.9" font-family="'Liberation Sans', Arial, Helvetica, sans-serif" font-size="28.3" fill="#000" textLength="84.72" lengthAdjust="spacing">G97L3</text>
<path d="M591.3 223.9H616.6M627.4 223.9H652.7" stroke="#0000FF" stroke-width="3.0" stroke-linecap="round" fill="none"/>
<path d="M616.1 220.5L627.9 220.5L622 230.7Z" fill="#0000FF"/>
<text x="660.2" y="232.7" font-family="'Liberation Sans', Arial, Helvetica, sans-serif" font-size="28.3" fill="#000" textLength="85.22" lengthAdjust="spacing">G95L5</text>
<g font-family="'Liberation Sans', Arial, Helvetica, sans-serif" font-size="22.6" fill="#000">
<text x="58" y="641.5" text-anchor="end">0</text>
<text x="58" y="593.81" text-anchor="end">2</text>
<text x="58" y="546.12" text-anchor="end">4</text>
<text x="58" y="498.43" text-anchor="end">6</text>
<text x="58" y="450.74" text-anchor="end">8</text>
<text x="58" y="403.05" text-anchor="end">10</text>
<text x="58" y="355.36" text-anchor="end">12</text>
<text x="58" y="307.67" text-anchor="end">14</text>
<text x="58" y="259.98" text-anchor="end">16</text>
<text x="58" y="212.29" text-anchor="end">18</text>
<text x="58" y="164.6" text-anchor="end">20</text>
<text x="58" y="116.91" text-anchor="end">22</text>
<text x="58" y="69.22" text-anchor="end">24</text>
<text x="97.5" y="663.4" text-anchor="middle">6</text>
<text x="177.07" y="663.4" text-anchor="middle">10</text>
<text x="319.79" y="663.4" text-anchor="middle">25</text>
<text x="427.75" y="663.4" text-anchor="middle">50</text>
<text x="535.72" y="663.4" text-anchor="middle">100</text>
<text x="678.44" y="663.4" text-anchor="middle">250</text>
<text x="794" y="663.4" text-anchor="middle">525</text>
</g>
<text x="339" y="704.8" font-family="'Liberation Sans', Arial, Helvetica, sans-serif" font-size="26.8" fill="#000" textLength="208.4" lengthAdjust="spacing">Particle Size [nm]</text>
<text transform="translate(23.3,455) rotate(-90)" font-family="'Liberation Sans', Arial, Helvetica, sans-serif" font-size="26.8" fill="#000" textLength="212.32" lengthAdjust="spacing">Concentration [%]</text>
<text x="68.6" y="40.2" font-family="'Liberation Sans', Arial, Helvetica, sans-serif" font-size="44.8" fill="#000" textLength="54.55" lengthAdjust="spacing">(b)</text>
</g>
<g transform="translate(483,735.3)">
<clipPath id="clipc"><rect x="69.3" y="63.1" width="747.75" height="572.65"/></clipPath>
<line x1="427.75" y1="67.8" x2="427.75" y2="633.55" stroke="#FF8000" stroke-width="6.9" stroke-dasharray="15.2 11.1"/>
<path d="M106.66 65.05V633.55M115.32 65.05V633.55M123.52 65.05V633.55M131.31 65.05V633.55M138.73 65.05V633.55M145.81 65.05V633.55M152.58 65.05V633.55M159.07 65.05V633.55M165.31 65.05V633.55M171.3 65.05V633.55M196.98 65.05V633.55M214.63 65.05V633.55M230.48 65.05V633.55M244.87 65.05V633.55M258.04 65.05V633.55M270.18 65.05V633.55M281.45 65.05V633.55M291.95 65.05V633.55M301.79 65.05V633.55M311.05 65.05V633.55M333.34 65.05V633.55M345.81 65.05V633.55M357.35 65.05V633.55M368.1 65.05V633.55M378.15 65.05V633.55M387.59 65.05V633.55M396.5 65.05V633.55M404.92 65.05V633.55M412.91 65.05V633.55M420.51 65.05V633.55M441.3 65.05V633.55M453.77 65.05V633.55M465.31 65.05V633.55M476.06 65.05V633.55M486.11 65.05V633.55M495.56 65.05V633.55M504.46 65.05V633.55M512.88 65.05V633.55M520.87 65.05V633.55M528.47 65.05V633.55M555.63 65.05V633.55M573.28 65.05V633.55M589.13 65.05V633.55M603.52 65.05V633.55M616.69 65.05V633.55M628.83 65.05V633.55M640.1 65.05V633.55M650.6 65.05V633.55M660.44 65.05V633.55M669.7 65.05V633.55M693.28 65.05V633.55M706.84 65.05V633.55M719.3 65.05V633.55M730.85 65.05V633.55M741.59 65.05V633.55M751.64 65.05V633.55M761.09 65.05V633.55M769.99 65.05V633.55M778.41 65.05V633.55M786.4 65.05V633.55" stroke="#cacaca" stroke-width="1" stroke-dasharray="2.1 1.9" fill="none"/>
<path d="M97.5 65.05V633.55M177.07 65.05V633.55M319.79 65.05V633.55M427.75 65.05V633.55M535.72 65.05V633.55M678.44 65.05V633.55M794 65.05V633.55" stroke="#787878" stroke-width="1.1" stroke-dasharray="3.8 3.0" fill="none"/>
<path d="M71.25 587.81H815.1M71.25 540.12H815.1M71.25 492.43H815.1M71.25 444.74H815.1M71.25 397.05H815.1M71.25 349.36H815.1M71.25 301.67H815.1M71.25 253.98H815.1M71.25 206.29H815.1M71.25 158.6H815.1M71.25 110.91H815.1" stroke="#8c8c8c" stroke-width="1.2" stroke-dasharray="3.9 3.0" fill="none"/>
<text x="80" y="88.75" font-family="'Liberation Sans', Arial, Helvetica, sans-serif" font-size="17.2" fill="#000" textLength="229.11" lengthAdjust="spacing">Injection pressure : Averaged</text>
<text x="80" y="118.8" font-family="'Liberation Sans', Arial, Helvetica, sans-serif" font-size="17.2" fill="#000" textLength="249.06" lengthAdjust="spacing">Injection Timing : BTDC 180deg</text>
<text x="80" y="148.6" font-family="'Liberation Sans', Arial, Helvetica, sans-serif" font-size="17.2" fill="#000" textLength="156.85" lengthAdjust="spacing">Equivalence ratio : 1</text>
<text x="306" y="200.7" font-family="'Liberation Sans', Arial, Helvetica, sans-serif" font-size="23.3" fill="#404040" textLength="114.19" lengthAdjust="spacing">Nucleation</text>
<text x="333" y="230.7" font-family="'Liberation Sans', Arial, Helvetica, sans-serif" font-size="23.3" fill="#404040" textLength="60.78" lengthAdjust="spacing">Mode</text>
<text x="441" y="200.9" font-family="'Liberation Sans', Arial, Helvetica, sans-serif" font-size="23.3" fill="#404040" textLength="145.76" lengthAdjust="spacing">Accumulation</text>
<text x="483" y="230.8" font-family="'Liberation Sans', Arial, Helvetica, sans-serif" font-size="23.3" fill="#404040" textLength="60.78" lengthAdjust="spacing">Mode</text>
<g fill="#3d3d3d" stroke="#3d3d3d" stroke-width="0.8" stroke-linejoin="round">
<rect x="330" y="251.1" width="89.4" height="3.8" stroke="none"/>
<path d="M319.4 253.1L331.5 246.8L331.5 259.4Z"/>
<rect x="437.4" y="251.1" width="89" height="3.8" stroke="none"/>
<path d="M537.6 253.1L525.5 246.8L525.5 259.4Z"/>
</g>
<rect x="69.3" y="63.1" width="747.75" height="572.4" fill="none" stroke="#000" stroke-width="3.9"/>
<path d="M97.5 635.5V625.25M97.5 63.1V73.35M177.07 635.5V625.25M177.07 63.1V73.35M319.79 635.5V625.25M319.79 63.1V73.35M427.75 635.5V625.25M427.75 63.1V73.35M535.72 635.5V625.25M535.72 63.1V73.35M678.44 635.5V625.25M678.44 63.1V73.35M794 635.5V625.25M794 63.1V73.35M69.3 635.5H78.85M817.05 635.5H807.5M69.3 587.81H78.85M817.05 587.81H807.5M69.3 540.12H78.85M817.05 540.12H807.5M69.3 492.43H78.85M817.05 492.43H807.5M69.3 444.74H78.85M817.05 444.74H807.5M69.3 397.05H78.85M817.05 397.05H807.5M69.3 349.36H78.85M817.05 349.36H807.5M69.3 301.67H78.85M817.05 301.67H807.5M69.3 253.98H78.85M817.05 253.98H807.5M69.3 206.29H78.85M817.05 206.29H807.5M69.3 158.6H78.85M817.05 158.6H807.5M69.3 110.91H78.85M817.05 110.91H807.5M69.3 63.22H78.85M817.05 63.22H807.5" stroke="#000" stroke-width="3.9" fill="none"/>
<path d="M69.3 611.65H73.85M817.05 611.65H812.5M69.3 563.97H73.85M817.05 563.97H812.5M69.3 516.27H73.85M817.05 516.27H812.5M69.3 468.59H73.85M817.05 468.59H812.5M69.3 420.89H73.85M817.05 420.89H812.5M69.3 373.21H73.85M817.05 373.21H812.5M69.3 325.51H73.85M817.05 325.51H812.5M69.3 277.83H73.85M817.05 277.83H812.5M69.3 230.13H73.85M817.05 230.13H812.5M69.3 182.45H73.85M817.05 182.45H812.5M69.3 134.75H73.85M817.05 134.75H812.5M69.3 87.07H73.85M817.05 87.07H812.5" stroke="#000" stroke-width="3.9" fill="none"/>
<g clip-path="url(#clipc)">
<path d="M100.15 556.69L118.68 506.76M125.5 504.28L138.19 511.5M145.38 509.18L163.17 470.2M170.15 468.2L183.26 476.91M189.54 485.37L208.73 548.64M215.22 551.23L227.91 544.03M238.32 542.08L249.67 543.74M259.31 548.37L273.54 561.58M280.02 570.47L297.69 608.18M304.89 616.11L317.68 623.68M327.92 627.95L339.51 630.98M349.96 629.94L362.33 623.89M368.73 616L388.42 537.71M390.52 526.72L411.49 367.72M414.8 357.2L432.07 323.95M436.98 324.07L454.75 362.94M457.96 373.56L478.63 503.45M481.35 514.27L500.1 568.26M507.39 574.84L518.92 577.56M529.61 580.82L541.56 585.31M551.51 590.31L564.52 598.66M574.16 604.34L586.73 611.12M596.82 615.95L608.93 621.05M619.49 624.72L631.12 627.95M642.08 630.15L653.39 631.58M664.54 632.56L675.79 633.12M686.98 633.54L698.21 633.81M709.41 633.95L720.64 633.95M731.84 633.95L743.07 633.95M754.27 633.95L765.5 633.95M776.7 633.95L787.93 633.95" fill="none" stroke="#464646" stroke-width="3.3" stroke-linecap="butt"/>
<rect x="93.8" y="557.54" width="8.8" height="8.8" fill="#464646"/>
<rect x="116.23" y="497.11" width="8.8" height="8.8" fill="#464646"/>
<rect x="138.66" y="509.87" width="8.8" height="8.8" fill="#464646"/>
<rect x="161.09" y="460.7" width="8.8" height="8.8" fill="#464646"/>
<rect x="183.52" y="475.61" width="8.8" height="8.8" fill="#464646"/>
<rect x="205.95" y="549.6" width="8.8" height="8.8" fill="#464646"/>
<rect x="228.38" y="536.86" width="8.8" height="8.8" fill="#464646"/>
<rect x="250.81" y="540.16" width="8.8" height="8.8" fill="#464646"/>
<rect x="273.24" y="561" width="8.8" height="8.8" fill="#464646"/>
<rect x="295.67" y="608.85" width="8.8" height="8.8" fill="#464646"/>
<rect x="318.1" y="622.13" width="8.8" height="8.8" fill="#464646"/>
<rect x="340.53" y="628" width="8.8" height="8.8" fill="#464646"/>
<rect x="362.96" y="617.03" width="8.8" height="8.8" fill="#464646"/>
<rect x="385.39" y="527.87" width="8.8" height="8.8" fill="#464646"/>
<rect x="407.82" y="357.76" width="8.8" height="8.8" fill="#464646"/>
<rect x="430.25" y="314.58" width="8.8" height="8.8" fill="#464646"/>
<rect x="452.68" y="363.63" width="8.8" height="8.8" fill="#464646"/>
<rect x="475.11" y="504.58" width="8.8" height="8.8" fill="#464646"/>
<rect x="497.54" y="569.15" width="8.8" height="8.8" fill="#464646"/>
<rect x="519.97" y="574.44" width="8.8" height="8.8" fill="#464646"/>
<rect x="542.4" y="582.89" width="8.8" height="8.8" fill="#464646"/>
<rect x="564.83" y="597.29" width="8.8" height="8.8" fill="#464646"/>
<rect x="587.26" y="609.38" width="8.8" height="8.8" fill="#464646"/>
<rect x="609.69" y="618.82" width="8.8" height="8.8" fill="#464646"/>
<rect x="632.12" y="625.04" width="8.8" height="8.8" fill="#464646"/>
<rect x="654.55" y="627.88" width="8.8" height="8.8" fill="#464646"/>
<rect x="676.98" y="629" width="8.8" height="8.8" fill="#464646"/>
<rect x="699.41" y="629.55" width="8.8" height="8.8" fill="#464646"/>
<rect x="721.84" y="629.55" width="8.8" height="8.8" fill="#464646"/>
<rect x="744.27" y="629.55" width="8.8" height="8.8" fill="#464646"/>
<rect x="766.7" y="629.55" width="8.8" height="8.8" fill="#464646"/>
<rect x="789.13" y="629.55" width="8.8" height="8.8" fill="#464646"/>
<path d="M103.96 630.61L114.87 627.39M126.59 625.04L137.1 623.88M149.06 623.31L159.49 623.46M171.49 623.46L181.92 623.31M193.52 621.07L204.75 616.76M213.1 609.28L230.03 576.38M234.88 565.43L253.11 516.58M256.88 505.2L275.97 439.41M279.03 427.81L298.68 345.02M302.54 333.71L320.03 295.09M328.34 288.23L339.09 285.66M347.85 289.51L364.44 319.36M368.89 330.41L388.26 403.86M391.66 415.36L410.35 472.18M414.65 483.37L432.22 522.98M437.56 533.71L454.17 563.72M460.62 573.82L475.97 594.86M483.97 603.72L497.48 615.89M507.43 622.33L518.88 627.4M530.27 630.94L540.9 632.95M552.79 634.39L563.24 634.94M575.23 635.33L585.66 635.44M597.66 635.5L608.09 635.5M620.09 635.5L630.52 635.5M642.52 635.5L652.95 635.5M664.95 635.5L675.38 635.5M687.38 635.5L697.81 635.5M709.81 635.5L720.24 635.5M732.24 635.5L742.67 635.5M754.67 635.5L765.1 635.5M777.1 635.5L787.53 635.5" fill="none" stroke="#0A84FF" stroke-width="3.0" stroke-linecap="butt"/>
<circle cx="98.2" cy="632.3" r="4.95" fill="#0A84FF"/>
<circle cx="120.63" cy="625.7" r="4.95" fill="#0A84FF"/>
<circle cx="143.06" cy="623.22" r="4.95" fill="#0A84FF"/>
<circle cx="165.49" cy="623.55" r="4.95" fill="#0A84FF"/>
<circle cx="187.92" cy="623.22" r="4.95" fill="#0A84FF"/>
<circle cx="210.35" cy="614.61" r="4.95" fill="#0A84FF"/>
<circle cx="232.78" cy="571.05" r="4.95" fill="#0A84FF"/>
<circle cx="255.21" cy="510.96" r="4.95" fill="#0A84FF"/>
<circle cx="277.64" cy="433.65" r="4.95" fill="#0A84FF"/>
<circle cx="300.07" cy="339.18" r="4.95" fill="#0A84FF"/>
<circle cx="322.5" cy="289.63" r="4.95" fill="#0A84FF"/>
<circle cx="344.93" cy="284.26" r="4.95" fill="#0A84FF"/>
<circle cx="367.36" cy="324.61" r="4.95" fill="#0A84FF"/>
<circle cx="389.79" cy="409.66" r="4.95" fill="#0A84FF"/>
<circle cx="412.22" cy="477.88" r="4.95" fill="#0A84FF"/>
<circle cx="434.65" cy="528.46" r="4.95" fill="#0A84FF"/>
<circle cx="457.08" cy="568.97" r="4.95" fill="#0A84FF"/>
<circle cx="479.51" cy="599.71" r="4.95" fill="#0A84FF"/>
<circle cx="501.94" cy="619.91" r="4.95" fill="#0A84FF"/>
<circle cx="524.37" cy="629.82" r="4.95" fill="#0A84FF"/>
<circle cx="546.8" cy="634.07" r="4.95" fill="#0A84FF"/>
<circle cx="569.23" cy="635.26" r="4.95" fill="#0A84FF"/>
<circle cx="591.66" cy="635.5" r="4.95" fill="#0A84FF"/>
<circle cx="614.09" cy="635.5" r="4.95" fill="#0A84FF"/>
<circle cx="636.52" cy="635.5" r="4.95" fill="#0A84FF"/>
<circle cx="658.95" cy="635.5" r="4.95" fill="#0A84FF"/>
<circle cx="681.38" cy="635.5" r="4.95" fill="#0A84FF"/>
<circle cx="703.81" cy="635.5" r="4.95" fill="#0A84FF"/>
<circle cx="726.24" cy="635.5" r="4.95" fill="#0A84FF"/>
<circle cx="748.67" cy="635.5" r="4.95" fill="#0A84FF"/>
<circle cx="771.1" cy="635.5" r="4.95" fill="#0A84FF"/>
<circle cx="793.53" cy="635.5" r="4.95" fill="#0A84FF"/>
<path d="M104.4 629.18L114.43 626.59M126.74 623.09L136.95 619.92M149.4 617.18L159.15 615.89M171.88 615.38L181.53 615.88M194.31 616.59L203.96 617.15M214.41 612.58L228.72 595.14M235.74 584.52L252.25 552.83M257.38 541.14L275.47 490.92M279.32 478.72L298.39 408.43M302.38 396.28L320.19 350.23M326.08 338.96L341.35 316.35M350.62 313.97L361.67 319.64M369.78 328.49L387.37 371.55M392.26 383.38L409.75 425.2M414.79 436.96L432.08 476.34M437.34 488.01L454.39 524.87M459.95 536.4L476.64 569.6M483.29 580.48L498.16 600.77M506.91 609.97L519.4 620.12M530.35 626.45L540.82 630.47M553.14 633.63L562.89 634.97M575.63 635.9L585.26 636.01M598.06 636.07L607.69 636.07M620.49 636.07L630.12 636.07M642.92 636.07L652.55 636.07M665.35 636.07L674.98 636.07M687.78 636.07L697.41 636.07M710.21 636.07L719.84 636.07M732.64 636.07L742.27 636.07M755.07 636.07L764.7 636.07M777.5 636.07L787.13 636.07" fill="none" stroke="#FF0000" stroke-width="3.2" stroke-linecap="butt"/>
<path d="M98.2 623.71L104.3 634.31L92.1 634.31Z" fill="#FF0000"/>
<path d="M120.63 617.92L126.73 628.52L114.53 628.52Z" fill="#FF0000"/>
<path d="M143.06 610.96L149.16 621.56L136.96 621.56Z" fill="#FF0000"/>
<path d="M165.49 607.98L171.59 618.58L159.39 618.58Z" fill="#FF0000"/>
<path d="M187.92 609.14L194.02 619.74L181.82 619.74Z" fill="#FF0000"/>
<path d="M210.35 610.46L216.45 621.06L204.25 621.06Z" fill="#FF0000"/>
<path d="M232.78 583.13L238.88 593.73L226.68 593.73Z" fill="#FF0000"/>
<path d="M255.21 540.09L261.31 550.69L249.11 550.69Z" fill="#FF0000"/>
<path d="M277.64 477.83L283.74 488.43L271.54 488.43Z" fill="#FF0000"/>
<path d="M300.07 395.18L306.17 405.78L293.97 405.78Z" fill="#FF0000"/>
<path d="M322.5 337.19L328.6 347.79L316.4 347.79Z" fill="#FF0000"/>
<path d="M344.93 303.98L351.03 314.58L338.83 314.58Z" fill="#FF0000"/>
<path d="M367.36 315.49L373.46 326.09L361.26 326.09Z" fill="#FF0000"/>
<path d="M389.79 370.41L395.89 381.01L383.69 381.01Z" fill="#FF0000"/>
<path d="M412.22 424.04L418.32 434.64L406.12 434.64Z" fill="#FF0000"/>
<path d="M434.65 475.14L440.75 485.74L428.55 485.74Z" fill="#FF0000"/>
<path d="M457.08 523.61L463.18 534.21L450.98 534.21Z" fill="#FF0000"/>
<path d="M479.51 568.25L485.61 578.85L473.41 578.85Z" fill="#FF0000"/>
<path d="M501.94 598.87L508.04 609.47L495.84 609.47Z" fill="#FF0000"/>
<path d="M524.37 617.09L530.47 627.69L518.27 627.69Z" fill="#FF0000"/>
<path d="M546.8 625.69L552.9 636.29L540.7 636.29Z" fill="#FF0000"/>
<path d="M569.23 628.77L575.33 639.37L563.13 639.37Z" fill="#FF0000"/>
<path d="M591.66 629.01L597.76 639.61L585.56 639.61Z" fill="#FF0000"/>
<path d="M614.09 629.01L620.19 639.61L607.99 639.61Z" fill="#FF0000"/>
<path d="M636.52 629.01L642.62 639.61L630.42 639.61Z" fill="#FF0000"/>
<path d="M658.95 629.01L665.05 639.61L652.85 639.61Z" fill="#FF0000"/>
<path d="M681.38 629.01L687.48 639.61L675.28 639.61Z" fill="#FF0000"/>
<path d="M703.81 629.01L709.91 639.61L697.71 639.61Z" fill="#FF0000"/>
<path d="M726.24 629.01L732.34 639.61L720.14 639.61Z" fill="#FF0000"/>
<path d="M748.67 629.01L754.77 639.61L742.57 639.61Z" fill="#FF0000"/>
<path d="M771.1 629.01L777.2 639.61L765 639.61Z" fill="#FF0000"/>
<path d="M793.53 629.01L799.63 639.61L787.43 639.61Z" fill="#FF0000"/>
<path d="M104.13 622.43L114.7 618.13M126.53 613.24L137.16 608.77M149.2 604.47L159.35 601.47M171.81 600.68L181.6 602.27M193.25 606.84L205.02 614.66M216.75 618.21L226.38 618.21M237.93 614.41L250.06 605.46M259.02 596.51L273.83 576.47M280.52 565.61L297.19 532.45M302.44 520.79L320.13 476.5M324.49 464.48L342.94 408.18M347.91 396.43L364.38 365.1M372.7 355.91L384.45 348.16M395.89 346.58L406.12 349.84M416.02 356.94L430.85 377.04M437.42 387.96L454.31 423.2M459.19 435.01L477.4 487.14M482.04 499.07L499.41 539.48M505.01 550.98L521.3 580.8M528.51 591.3L542.66 608.03M552.62 615.57L563.41 620.5M575.37 624.98L585.52 627.98M598.04 630.26L607.71 630.95M620.45 632.09L630.16 633.12M642.91 634.07L652.56 634.48M665.35 634.75L674.98 634.75M687.78 634.75L697.41 634.75M710.21 634.75L719.84 634.75M732.64 634.75L742.27 634.75M755.07 634.75L764.7 634.75M777.5 634.75L787.13 634.75" fill="none" stroke="#0000FF" stroke-width="3.8" stroke-linecap="butt"/>
<path d="M92.3 621.43L104.1 621.43L98.2 631.63Z" fill="#0000FF"/>
<path d="M114.73 612.33L126.53 612.33L120.63 622.53Z" fill="#0000FF"/>
<path d="M137.16 602.88L148.96 602.88L143.06 613.08Z" fill="#0000FF"/>
<path d="M159.59 596.25L171.39 596.25L165.49 606.45Z" fill="#0000FF"/>
<path d="M182.02 599.9L193.82 599.9L187.92 610.1Z" fill="#0000FF"/>
<path d="M204.45 614.81L216.25 614.81L210.35 625.01Z" fill="#0000FF"/>
<path d="M226.88 614.81L238.68 614.81L232.78 625.01Z" fill="#0000FF"/>
<path d="M249.31 598.26L261.11 598.26L255.21 608.46Z" fill="#0000FF"/>
<path d="M271.74 567.93L283.54 567.93L277.64 578.13Z" fill="#0000FF"/>
<path d="M294.17 523.34L305.97 523.34L300.07 533.54Z" fill="#0000FF"/>
<path d="M316.6 467.16L328.4 467.16L322.5 477.36Z" fill="#0000FF"/>
<path d="M339.03 398.7L350.83 398.7L344.93 408.9Z" fill="#0000FF"/>
<path d="M361.46 356.04L373.26 356.04L367.36 366.24Z" fill="#0000FF"/>
<path d="M383.89 341.23L395.69 341.23L389.79 351.43Z" fill="#0000FF"/>
<path d="M406.32 348.39L418.12 348.39L412.22 358.59Z" fill="#0000FF"/>
<path d="M428.75 378.79L440.55 378.79L434.65 388.99Z" fill="#0000FF"/>
<path d="M451.18 425.57L462.98 425.57L457.08 435.77Z" fill="#0000FF"/>
<path d="M473.61 489.79L485.41 489.79L479.51 499.99Z" fill="#0000FF"/>
<path d="M496.04 541.96L507.84 541.96L501.94 552.16Z" fill="#0000FF"/>
<path d="M518.47 583.02L530.27 583.02L524.37 593.22Z" fill="#0000FF"/>
<path d="M540.9 609.51L552.7 609.51L546.8 619.71Z" fill="#0000FF"/>
<path d="M563.33 619.77L575.13 619.77L569.23 629.97Z" fill="#0000FF"/>
<path d="M585.76 626.39L597.56 626.39L591.66 636.59Z" fill="#0000FF"/>
<path d="M608.19 628.02L619.99 628.02L614.09 638.22Z" fill="#0000FF"/>
<path d="M630.62 630.4L642.42 630.4L636.52 640.6Z" fill="#0000FF"/>
<path d="M653.05 631.35L664.85 631.35L658.95 641.55Z" fill="#0000FF"/>
<path d="M675.48 631.35L687.28 631.35L681.38 641.55Z" fill="#0000FF"/>
<path d="M697.91 631.35L709.71 631.35L703.81 641.55Z" fill="#0000FF"/>
<path d="M720.34 631.35L732.14 631.35L726.24 641.55Z" fill="#0000FF"/>
<path d="M742.77 631.35L754.57 631.35L748.67 641.55Z" fill="#0000FF"/>
<path d="M765.2 631.35L777 631.35L771.1 641.55Z" fill="#0000FF"/>
<path d="M787.63 631.35L799.43 631.35L793.53 641.55Z" fill="#0000FF"/>
</g>
<rect x="587.5" y="68.6" width="224.4" height="173.8" fill="#fff" stroke="#2a2a2a" stroke-width="1.15"/>
<text x="590.2" y="96.8" font-family="'Liberation Sans', Arial, Helvetica, sans-serif" font-size="28.3" fill="#000" textLength="219.09" lengthAdjust="spacing">Fuel Composition</text>
<path d="M591.3 121.3H616.6M627.4 121.3H652.7" stroke="#464646" stroke-width="2.6" stroke-linecap="round" fill="none"/>
<rect x="617.6" y="116.9" width="8.8" height="8.8" fill="#464646"/>
<text x="660.4" y="130.9" font-family="'Liberation Sans', Arial, Helvetica, sans-serif" font-size="28.3" fill="#000" textLength="68.93" lengthAdjust="spacing">G100</text>
<path d="M591.3 155.8H616.6M627.4 155.8H652.7" stroke="#0A84FF" stroke-width="2.7" stroke-linecap="round" fill="none"/>
<circle cx="622" cy="155.8" r="4.95" fill="#0A84FF"/>
<text x="660.4" y="164.9" font-family="'Liberation Sans', Arial, Helvetica, sans-serif" font-size="28.3" fill="#000" textLength="81.37" lengthAdjust="spacing">G99L1</text>
<path d="M591.3 189.8H616.6M627.4 189.8H652.7" stroke="#FF0000" stroke-width="3.0" stroke-linecap="round" fill="none"/>
<path d="M622 182.73L628.1 193.33L615.9 193.33Z" fill="#FF0000"/>
<text x="660.2" y="198.9" font-family="'Liberation Sans', Arial, Helvetica, sans-serif" font-size="28.3" fill="#000" textLength="84.72" lengthAdjust="spacing">G97L3</text>
<path d="M591.3 223.9H616.6M627.4 223.9H652.7" stroke="#0000FF" stroke-width="3.0" stroke-linecap="round" fill="none"/>
<path d="M616.1 220.5L627.9 220.5L622 230.7Z" fill="#0000FF"/>
<text x="660.2" y="232.7" font-family="'Liberation Sans', Arial, Helvetica, sans-serif" font-size="28.3" fill="#000" textLength="85.22" lengthAdjust="spacing">G95L5</text>
<g font-family="'Liberation Sans', Arial, Helvetica, sans-serif" font-size="22.6" fill="#000">
<text x="58" y="641.5" text-anchor="end">0</text>
<text x="58" y="593.81" text-anchor="end">2</text>
<text x="58" y="546.12" text-anchor="end">4</text>
<text x="58" y="498.43" text-anchor="end">6</text>
<text x="58" y="450.74" text-anchor="end">8</text>
<text x="58" y="403.05" text-anchor="end">10</text>
<text x="58" y="355.36" text-anchor="end">12</text>
<text x="58" y="307.67" text-anchor="end">14</text>
<text x="58" y="259.98" text-anchor="end">16</text>
<text x="58" y="212.29" text-anchor="end">18</text>
<text x="58" y="164.6" text-anchor="end">20</text>
<text x="58" y="116.91" text-anchor="end">22</text>
<text x="58" y="69.22" text-anchor="end">24</text>
<text x="97.5" y="663.4" text-anchor="middle">6</text>
<text x="177.07" y="663.4" text-anchor="middle">10</text>
<text x="319.79" y="663.4" text-anchor="middle">25</text>
<text x="427.75" y="663.4" text-anchor="middle">50</text>
<text x="535.72" y="663.4" text-anchor="middle">100</text>
<text x="678.44" y="663.4" text-anchor="middle">250</text>
<text x="794" y="663.4" text-anchor="middle">525</text>
</g>
<text x="339" y="704.8" font-family="'Liberation Sans', Arial, Helvetica, sans-serif" font-size="26.8" fill="#000" textLength="208.4" lengthAdjust="spacing">Particle Size [nm]</text>
<text transform="translate(23.3,455) rotate(-90)" font-family="'Liberation Sans', Arial, Helvetica, sans-serif" font-size="26.8" fill="#000" textLength="212.32" lengthAdjust="spacing">Concentration [%]</text>
<text x="68.3" y="40.2" font-family="'Liberation Sans', Arial, Helvetica, sans-serif" font-size="44.8" fill="#000" textLength="52.63" lengthAdjust="spacing">(c)</text>
</g>
</svg></body></html>
